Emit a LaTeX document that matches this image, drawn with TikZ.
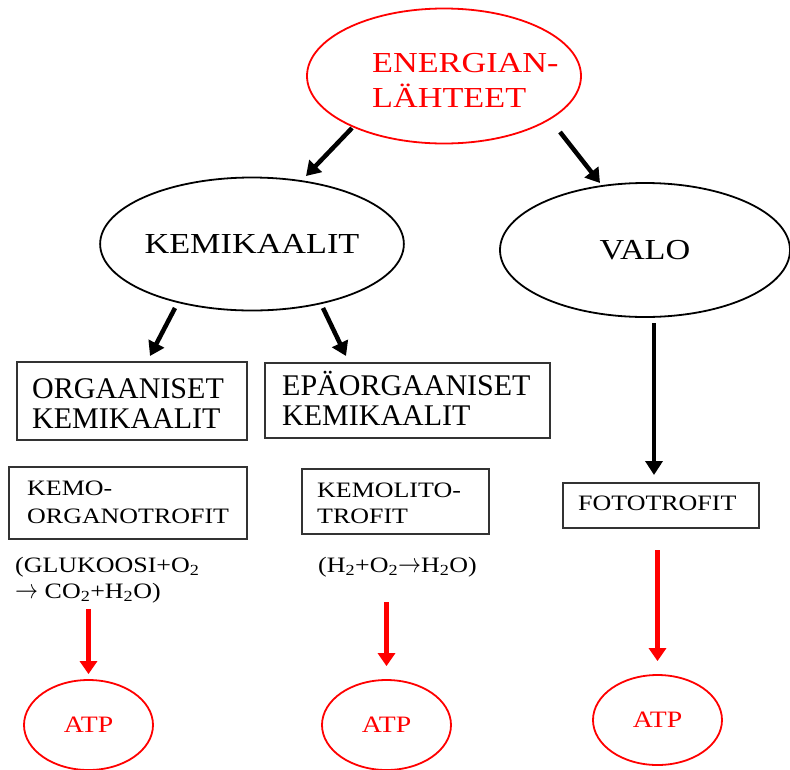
\documentclass[tikz,border=0pt]{standalone}
\usepackage{fontspec}
\setmainfont{Liberation Serif}
\newfontfamily\wf[FakeStretch=1.18]{Liberation Serif}
\usetikzlibrary{arrows.meta,shapes.geometric,calc}
\definecolor{rd}{RGB}{255,0,0}
\newcommand{\myarr}{\resizebox{23pt}{10pt}{$\rightarrow$}}
\begin{document}
\begin{tikzpicture}[x=1pt,y=-1pt,
  ell/.style={ellipse, draw=black, line width=1.8pt, inner sep=0pt},
  rell/.style={ellipse, draw=rd, line width=1.8pt, inner sep=0pt},
  box/.style={rectangle, draw=black!80, line width=1.2pt, inner sep=0pt},
  arr/.style={line width=4.5pt, -{Triangle[length=14pt,width=17pt]}},
  rarr/.style={line width=4.5pt, draw=rd, -{Triangle[length=13pt,width=17pt]}},
  txt/.style={anchor=base west, inner sep=0pt},
  big/.style={font=\wf\fontsize{29}{34}\selectfont},
  mid/.style={font=\fontsize{30}{34}\selectfont},
  small/.style={font=\wf\fontsize{22}{26}\selectfont},
  atp/.style={rell, minimum width=129pt, minimum height=90pt, text=rd, font=\wf\fontsize{23.5}{26}\selectfont}
]
\useasboundingbox (0,0) rectangle (790,769);

% top
\node[rell, minimum width=274pt, minimum height=135pt] (top) at (444,76) {};
\node[txt, big, text=rd] (t1) at (372,72) {ENERGIAN-};
\node[txt, big, text=rd] (t2) at (372,107) {LÄHTEET};

% second level
\node[ell, big, minimum width=302pt, minimum height=133pt] (kem) at (252,244) {KEMIKAALIT};
\node[ell, big, minimum width=290pt, minimum height=134pt] (val) at (645,250) {VALO};

\draw[arr] ($(top)+(-92,52)$) -- ($(kem)+(54,-68)$);
\draw[arr] ($(top)+(116,56)$) -- ($(val)+(-45,-67)$);

% boxes
\node[box, minimum width=230pt, minimum height=78pt] (org) at (132,401) {};
\node[txt, mid] at (32,398) {ORGAANISET};
\node[txt, mid] at (32,428) {KEMIKAALIT};

\node[box, minimum width=285pt, minimum height=75pt] (epa) at (407.5,400.5) {};
\node[txt, mid] at (282,395) {EPÄORGAANISET};
\node[txt, mid] at (282,425) {KEMIKAALIT};

\draw[arr] ($(kem)+(-77,64)$) -- ($(org)+(18,-45)$);
\draw[arr] ($(kem)+(71,64)$) -- ($(epa)+(-61.5,-44.5)$);

\node[box, minimum width=238pt, minimum height=72pt] (kemo) at (128,503) {};
\node[txt, small] at (27,495) {KEMO-};
\node[txt, small] at (27,523) {ORGANOTROFIT};

\node[box, minimum width=187pt, minimum height=65pt] (lito) at (395.5,501.5) {};
\node[txt, small] at (317,497) {KEMOLITO-};
\node[txt, small] at (317,523) {TROFIT};

\node[box, minimum width=196pt, minimum height=45pt] (foto) at (661,505.5) {};
\node[txt, small] at (578,510) {FOTOTROFIT};

\draw[arr] ($(val)+(9,73)$) -- ($(foto)+(-7,-30.5)$);

% formulas
\node[txt, small, align=left] (f1) at (15,598) {(GLUKOOSI+O\textsubscript{2}\\\myarr{} CO\textsubscript{2}+H\textsubscript{2}O)};
\node[txt, small] (f3) at (318,572) {(H\textsubscript{2}+O\textsubscript{2}\myarr{}H\textsubscript{2}O)};

% ATP
\node[atp] (a1) at (88.5,725) {ATP};
\node[atp] (a2) at (386.5,725) {ATP};
\node[atp] (a3) at (657.5,720) {ATP};

\coordinate (s1) at (88.5,609);
\coordinate (s2) at (386.5,602);
\coordinate (s3) at (657.5,550);
\draw[rarr] (s1) -- ($(a1.north)+(0,-5)$);
\draw[rarr] (s2) -- ($(a2.north)+(0,-13)$);
\draw[rarr] (s3) -- ($(a3.north)+(0,-13)$);
\end{tikzpicture}
\end{document}
